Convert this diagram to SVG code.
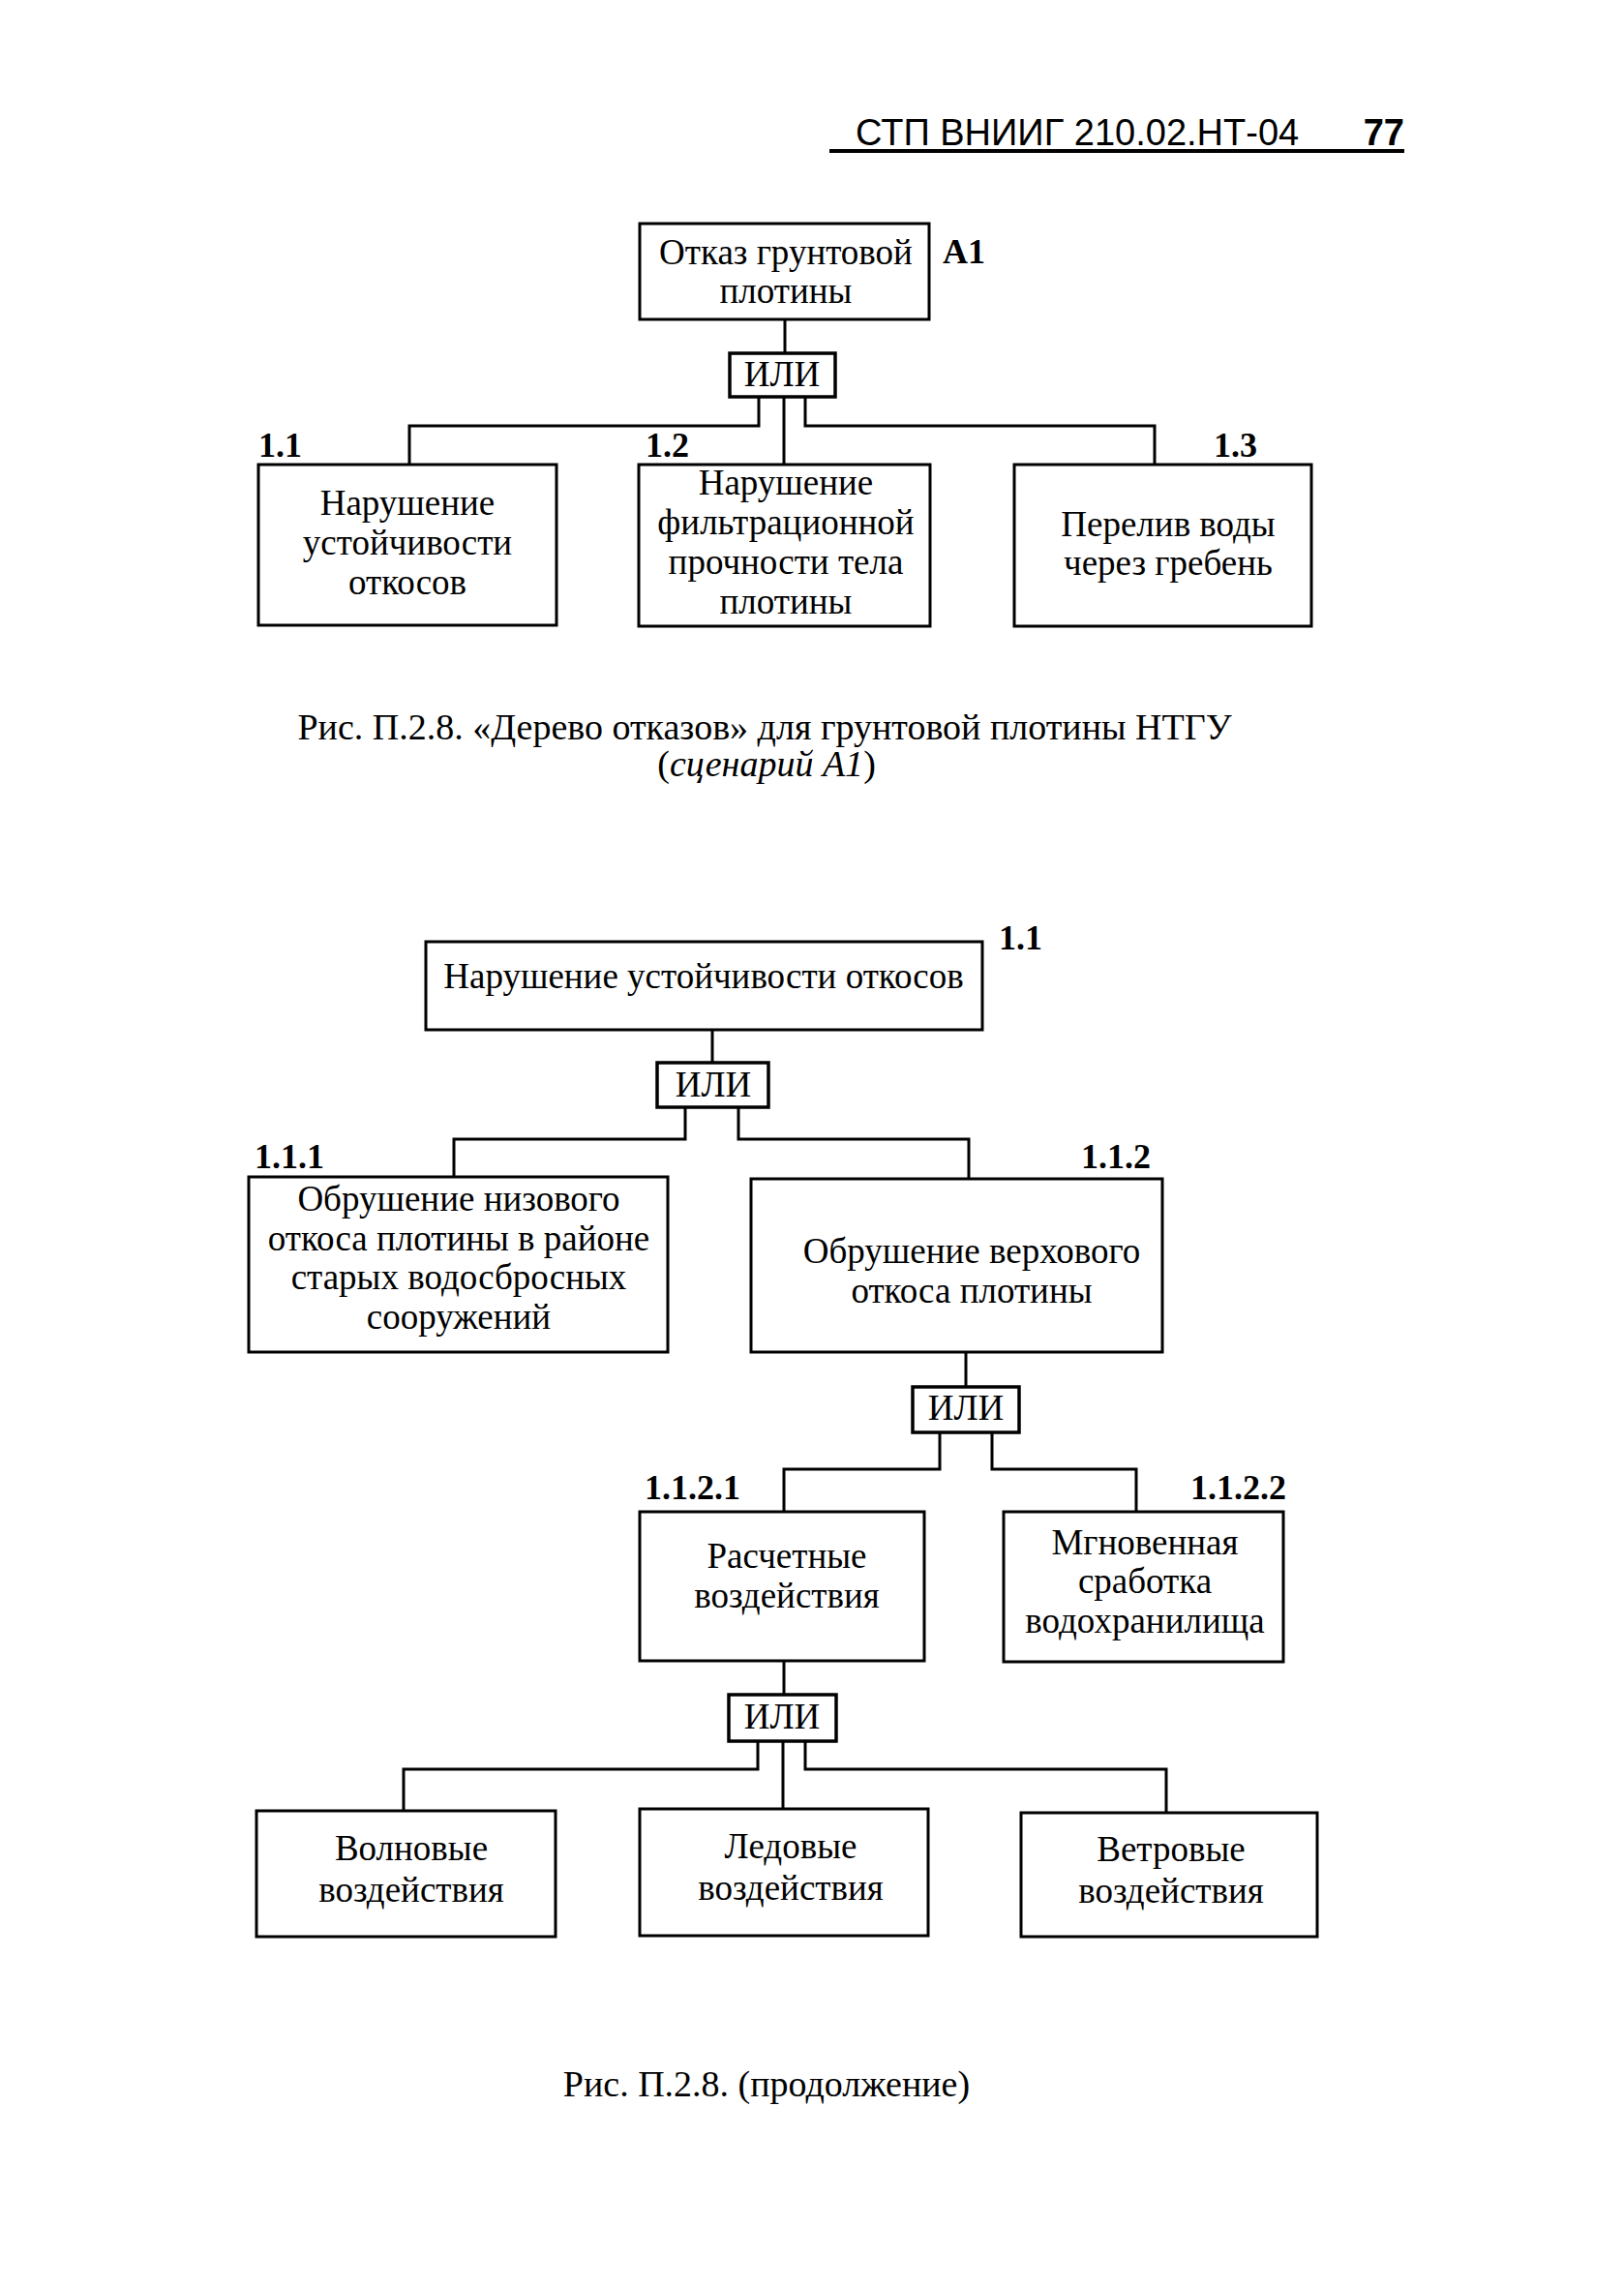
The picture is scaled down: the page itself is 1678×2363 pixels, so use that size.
<svg xmlns="http://www.w3.org/2000/svg" width="1678" height="2363" viewBox="0 0 1678 2363">
<style>
.box{fill:#fff;stroke:#000;stroke-width:3}
.gate{fill:#fff;stroke:#000;stroke-width:3.5}
.con path{fill:none;stroke:#000;stroke-width:3}
.t{font-family:"Liberation Serif","Times New Roman",serif;font-size:37px;fill:#000;text-anchor:middle}
.lbl{font-family:"Liberation Serif","Times New Roman",serif;font-size:36px;font-weight:bold;fill:#000}
.cap{font-family:"Liberation Serif","Times New Roman",serif;font-size:38px;fill:#000;text-anchor:middle}
.hdr{font-family:"Liberation Sans",Arial,sans-serif;font-size:38px;fill:#000}
</style>
<rect width="1678" height="2363" fill="#fff"/>
<g id="header">
<text class="hdr" x="884" y="150">СТП ВНИИГ 210.02.НТ-04</text>
<text class="hdr" x="1451" y="150" font-weight="bold" text-anchor="end">77</text>
<line x1="857" y1="156" x2="1451" y2="156" stroke="#000" stroke-width="4"/>
</g>
<g id="connectors" class="con">
<path d="M811,330 V365"/>
<path d="M784,410 V440 H423 V480"/>
<path d="M810,410 V480"/>
<path d="M832,410 V440 H1193 V480"/>
<path d="M736,1064 V1098"/>
<path d="M708,1144 V1177 H469 V1216"/>
<path d="M763,1144 V1177 H1001 V1218"/>
<path d="M998,1397 V1433"/>
<path d="M971,1480 V1518 H810 V1562"/>
<path d="M1025,1480 V1518 H1174 V1562"/>
<path d="M810,1716 V1751"/>
<path d="M783,1799 V1828 H417 V1871"/>
<path d="M809,1799 V1869"/>
<path d="M832,1799 V1828 H1205 V1873"/>
</g>
<g id="nodeA1">
<rect class="box" x="661" y="231" width="299" height="99"/>
<text class="t" x="812" y="273">Отказ грунтовой</text>
<text class="t" x="812" y="313">плотины</text>
<text class="lbl" x="974" y="272">А1</text>
</g>
<g id="gate1">
<rect class="gate" x="754" y="365" width="109" height="45"/>
<text class="t" x="808" y="399">ИЛИ</text>
</g>
<g id="node1_1">
<rect class="box" x="267" y="480" width="308" height="166"/>
<text class="t" x="421" y="532">Нарушение</text>
<text class="t" x="421" y="573">устойчивости</text>
<text class="t" x="421" y="614">откосов</text>
<text class="lbl" x="267" y="472">1.1</text>
</g>
<g id="node1_2">
<rect class="box" x="660" y="480" width="301" height="167"/>
<text class="t" x="812" y="511">Нарушение</text>
<text class="t" x="812" y="552">фильтрационной</text>
<text class="t" x="812" y="593">прочности тела</text>
<text class="t" x="812" y="634">плотины</text>
<text class="lbl" x="667" y="472">1.2</text>
</g>
<g id="node1_3">
<rect class="box" x="1048" y="480" width="307" height="167"/>
<text class="t" x="1207" y="554">Перелив воды</text>
<text class="t" x="1207" y="594">через гребень</text>
<text class="lbl" x="1254" y="472">1.3</text>
</g>
<g id="caption1">
<text class="cap" x="790" y="764">Рис. П.2.8. «Дерево отказов» для грунтовой плотины НТГУ</text>
<text class="cap" x="792" y="802">(<tspan font-style="italic">сценарий А1</tspan>)</text>
</g>
<g id="node1_1b">
<rect class="box" x="440" y="973" width="575" height="91"/>
<text class="t" x="727" y="1021">Нарушение устойчивости откосов</text>
<text class="lbl" x="1032" y="981">1.1</text>
</g>
<g id="gate2">
<rect class="gate" x="679" y="1098" width="115" height="46"/>
<text class="t" x="737" y="1133">ИЛИ</text>
</g>
<g id="node1_1_1">
<rect class="box" x="257" y="1216" width="433" height="181"/>
<text class="t" x="474" y="1251">Обрушение низового</text>
<text class="t" x="474" y="1292">откоса плотины в районе</text>
<text class="t" x="474" y="1332">старых водосбросных</text>
<text class="t" x="474" y="1373">сооружений</text>
<text class="lbl" x="263" y="1207">1.1.1</text>
</g>
<g id="node1_1_2">
<rect class="box" x="776" y="1218" width="425" height="179"/>
<text class="t" x="1004" y="1305">Обрушение верхового</text>
<text class="t" x="1004" y="1346">откоса плотины</text>
<text class="lbl" x="1117" y="1207">1.1.2</text>
</g>
<g id="gate3">
<rect class="gate" x="943" y="1433" width="110" height="47"/>
<text class="t" x="998" y="1467">ИЛИ</text>
</g>
<g id="node1_1_2_1">
<rect class="box" x="661" y="1562" width="294" height="154"/>
<text class="t" x="813" y="1620">Расчетные</text>
<text class="t" x="813" y="1661">воздействия</text>
<text class="lbl" x="666" y="1549">1.1.2.1</text>
</g>
<g id="node1_1_2_2">
<rect class="box" x="1037" y="1562" width="289" height="155"/>
<text class="t" x="1183" y="1606">Мгновенная</text>
<text class="t" x="1183" y="1646">сработка</text>
<text class="t" x="1183" y="1687">водохранилища</text>
<text class="lbl" x="1230" y="1549">1.1.2.2</text>
</g>
<g id="gate4">
<rect class="gate" x="753" y="1751" width="111" height="48"/>
<text class="t" x="808" y="1786">ИЛИ</text>
</g>
<g id="nodeWave">
<rect class="box" x="265" y="1871" width="309" height="130"/>
<text class="t" x="425" y="1922">Волновые</text>
<text class="t" x="425" y="1965">воздействия</text>
</g>
<g id="nodeIce">
<rect class="box" x="661" y="1869" width="298" height="131"/>
<text class="t" x="817" y="1920">Ледовые</text>
<text class="t" x="817" y="1963">воздействия</text>
</g>
<g id="nodeWind">
<rect class="box" x="1055" y="1873" width="306" height="128"/>
<text class="t" x="1210" y="1923">Ветровые</text>
<text class="t" x="1210" y="1966">воздействия</text>
</g>
<g id="caption2">
<text class="cap" x="792" y="2166">Рис. П.2.8. (продолжение)</text>
</g>
</svg>
